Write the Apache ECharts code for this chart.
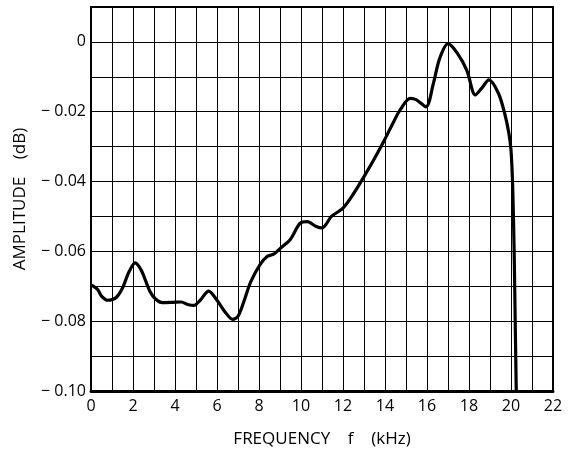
<!DOCTYPE html>
<html>
<head>
<meta charset="utf-8">
<script src="https://cdn.jsdelivr.net/npm/echarts@6/dist/echarts.min.js"></script>
<style>html,body{margin:0;padding:0;background:#fff;}#c{width:573px;height:455px;}</style>
</head>
<body>
<div id="c"></div>
<script>
const freq = [0,0.3,0.5,0.8,1.2,1.5,1.8,2.1,2.4,2.8,3.1,3.4,3.9,4.3,4.6,4.9,5.2,5.6,6.0,6.4,6.75,7.0,7.3,7.6,8.05,8.4,8.7,9.0,9.5,9.95,10.3,10.7,11.0,11.45,12.0,12.5,13.0,13.5,14.0,14.4,14.75,15.2,15.5,15.95,16.3,16.6,17.0,17.45,17.9,18.3,18.6,18.95,19.4,19.7,19.9,20.0,20.08,20.15,20.2,20.25];
const amp = [-0.0696,-0.0708,-0.0728,-0.0740,-0.0732,-0.0705,-0.0660,-0.0633,-0.0655,-0.0714,-0.0738,-0.0747,-0.0746,-0.0745,-0.0752,-0.0755,-0.0740,-0.0714,-0.0740,-0.0775,-0.0795,-0.0786,-0.0740,-0.0688,-0.0638,-0.0614,-0.0608,-0.0592,-0.0565,-0.0520,-0.0515,-0.0528,-0.0533,-0.0500,-0.0476,-0.0435,-0.0386,-0.0334,-0.0278,-0.0230,-0.0192,-0.0162,-0.0166,-0.0186,-0.0120,-0.0048,-0.0005,-0.0033,-0.0082,-0.0152,-0.0133,-0.0109,-0.0147,-0.0205,-0.0262,-0.0310,-0.0414,-0.0600,-0.0800,-0.1000];
const xTitle = 'FREQUENCY    f    (kHz)';
const yTitle = 'AMPLITUDE    (dB)';

const font = 'Open Sans';
const chart = echarts.init(document.getElementById('c'), null, {renderer: 'canvas'});
chart.setOption({
  animation: false,
  backgroundColor: '#fff',
  grid: {left: 91, right: 20, top: 7, bottom: 64, show: true, borderColor: '#000', borderWidth: 2, backgroundColor: 'transparent'},
  xAxis: {
    type: 'value', min: 0, max: 22, interval: 1,
    name: xTitle, nameLocation: 'middle', nameGap: 40,
    nameTextStyle: {fontFamily: font, fontSize: 17, color: '#000'},
    axisLine: {show: true, onZero: false, lineStyle: {color: '#000', width: 3}},
    axisTick: {show: false},
    axisLabel: {fontFamily: font, fontSize: 16, color: '#000', margin: 7,
      formatter: v => (Math.round(v) % 2 === 0 ? String(Math.round(v)) : '')},
    splitLine: {show: true, lineStyle: {color: '#000', width: 1}}
  },
  yAxis: {
    type: 'value', min: -0.1, max: 0.01, interval: 0.01,
    name: yTitle, nameLocation: 'middle', nameGap: 62,
    nameTextStyle: {fontFamily: font, fontSize: 17, color: '#000'},
    axisLine: {show: true, onZero: false, lineStyle: {color: '#000', width: 2}},
    axisTick: {show: false},
    axisLabel: {fontFamily: font, fontSize: 16, color: '#000', margin: 5,
      formatter: v => {
        const k = Math.round(v * 100);
        if (k % 2 !== 0 || k > 0) return '';
        if (k === 0) return '0';
        return '\u2212 ' + (Math.abs(k) / 100).toFixed(2);
      }},
    splitLine: {show: true, lineStyle: {color: '#000', width: 1}}
  },
  series: [{
    type: 'line',
    data: freq.map((f, i) => [f, amp[i]]),
    smooth: 0.3,
    showSymbol: false,
    lineStyle: {color: '#000', width: 3.2},
    clip: false
  }]
});
</script>
</body>
</html>
